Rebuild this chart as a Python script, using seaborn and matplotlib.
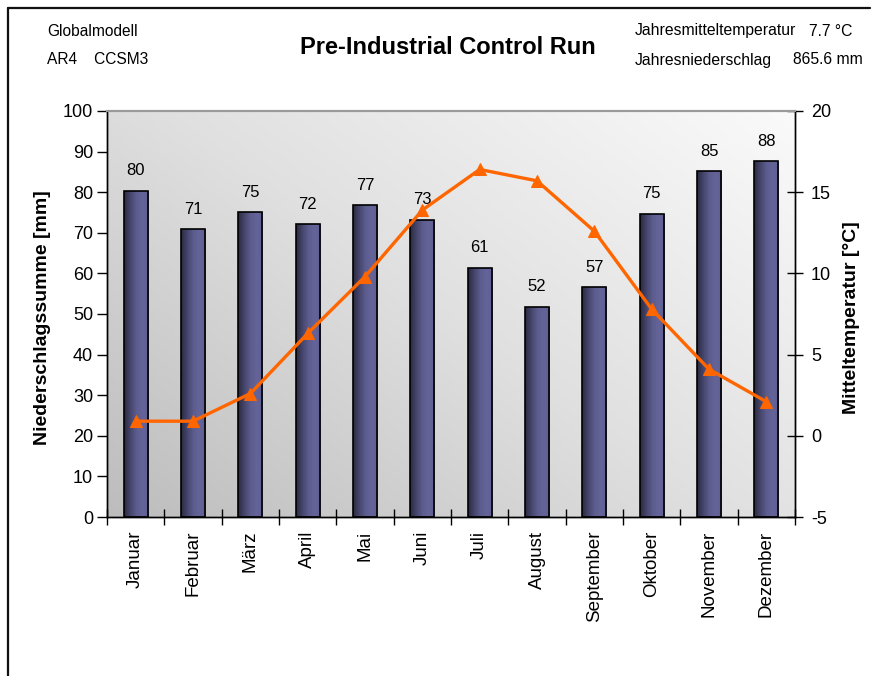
import numpy as np
import pandas as pd
import matplotlib
matplotlib.use("Agg")
import matplotlib.pyplot as plt
from matplotlib.colors import LinearSegmentedColormap
from matplotlib.lines import Line2D
from matplotlib.ticker import MultipleLocator, FixedLocator, NullFormatter
import seaborn as sns

# Monthly climate of the control run
months = ["Januar", "Februar", "März", "April", "Mai", "Juni", "Juli",
          "August", "September", "Oktober", "November", "Dezember"]
precip_mm = [80.4, 70.9, 75.0, 72.1, 76.8, 73.2, 61.4, 51.8, 56.6, 74.7, 85.1, 87.6]
temp_c = [0.9, 0.9, 2.6, 6.3, 9.8, 13.9, 16.4, 15.7, 12.6, 7.8, 4.1, 2.1]

model_name = "Globalmodell"
model_id = "AR4    CCSM3"
title = "Pre-Industrial Control Run"
annual_temp = "7.7 °C"
annual_precip = "865.6 mm"

sns.set_theme(style="white")
plt.rcParams["font.family"] = ["Liberation Sans", "DejaVu Sans"]
plt.rcParams["text.color"] = "black"
plt.rcParams["axes.labelcolor"] = "black"
plt.rcParams["xtick.color"] = "black"
plt.rcParams["ytick.color"] = "black"
plt.rcParams["axes.unicode_minus"] = False

df = pd.DataFrame({"Monat": months, "Niederschlag": precip_mm, "Temperatur": temp_c})

fig = plt.figure(figsize=(8.72, 6.76), dpi=100)
fig.patch.set_facecolor("white")
ax = fig.add_axes([107 / 872, 1 - 517 / 676, (795 - 107) / 872, (517 - 111) / 676])

# Precipitation bars
sns.barplot(data=df, x="Monat", y="Niederschlag", ax=ax, width=0.42,
            color="#50507e", edgecolor="black", linewidth=1.2, zorder=3)
ax.set_xlim(-0.5, len(months) - 0.5)
ax.set_ylim(0, 100)

# Diagonal grey background gradient
gx, gy = np.meshgrid(np.linspace(0, 1, 200), np.linspace(0, 1, 200))
bg = 0.55 * gx + 0.45 * gy
bg_cmap = LinearSegmentedColormap.from_list("bg", ["#bdbdbd", "#e0e0e0", "#fafafa"])
ax.imshow(bg, cmap=bg_cmap, origin="lower", aspect="auto",
          extent=(-0.5, len(months) - 0.5, 0, 100), zorder=0, interpolation="bilinear")

# Horizontal shading on each bar
bar_cmap = LinearSegmentedColormap.from_list(
    "bar", ["#2a2a42", "#45456c", "#5c5c8e", "#64649a", "#5e5e92"])
shade = np.linspace(0, 1, 64).reshape(1, -1)
for patch in ax.patches:
    x0, y0 = patch.get_x(), patch.get_y()
    w, h = patch.get_width(), patch.get_height()
    im = ax.imshow(shade, cmap=bar_cmap, aspect="auto", extent=(x0, x0 + w, y0, y0 + h),
                   zorder=2.5, interpolation="bilinear")
    im.set_clip_path(patch)
    patch.set_facecolor("none")
ax.set_xlim(-0.5, len(months) - 0.5)
ax.set_ylim(0, 100)

ax.bar_label(ax.containers[0], fmt="%.0f", padding=9, fontsize=12, color="black")

# Temperature line on the secondary axis
ax2 = ax.twinx()
sns.lineplot(x=np.arange(len(months)), y=df["Temperatur"], ax=ax2, color="#ff6600",
             linewidth=2.4, marker="^", markersize=8, markeredgecolor="#ff6600", zorder=5)
ax2.set_ylim(-5, 20)
ax2.set_xlim(-0.5, len(months) - 0.5)

# Axes styling
for a in (ax, ax2):
    for side in ("left", "right", "bottom"):
        a.spines[side].set_color("black")
        a.spines[side].set_linewidth(1.0)
    a.spines["top"].set_color("#9a9a9a")
    a.spines["top"].set_linewidth(1.5)

ax.yaxis.set_major_locator(MultipleLocator(10))
ax.tick_params(axis="y", which="major", direction="out", length=7, width=1,
               labelsize=13, pad=3, left=True)
ax.set_ylabel("Niederschlagssumme [mm]", fontsize=14, fontweight="bold")
ax.yaxis.set_label_coords(-0.081, 0.49)

ax2.yaxis.set_major_locator(MultipleLocator(5))
ax2.tick_params(axis="y", which="major", direction="inout", length=11, width=1,
                labelsize=13, pad=6, right=True)
ax2.set_ylabel("Mitteltemperatur [°C]", fontsize=14, fontweight="bold")
ax2.yaxis.set_label_coords(1.070, 0.49)

ax.set_xticks(np.arange(len(months)))
ax.set_xticklabels(months, rotation=90, fontsize=13.5)
ax.xaxis.set_minor_locator(FixedLocator(np.arange(len(months) + 1) - 0.5))
ax.xaxis.set_minor_formatter(NullFormatter())
ax.tick_params(axis="x", which="major", length=0, pad=10)
ax.tick_params(axis="x", which="minor", direction="inout", length=12, width=1, bottom=True)
ax.set_xlabel("")
ax2.set_xlabel("")
ax2.tick_params(axis="x", which="both", bottom=False, top=False, labelbottom=False)

# Header block
fig.text(47 / 872, 1 - 31 / 676, model_name, fontsize=11.2, va="center", ha="left")
fig.text(47 / 872, 1 - 60 / 676, model_id, fontsize=11.2, va="center", ha="left")
fig.text(448 / 872, 1 - 47 / 676, title, fontsize=17, fontweight="bold",
         va="center", ha="center")
fig.text(635 / 872, 1 - 31 / 676, "Jahresmitteltemperatur", fontsize=11.3, va="center", ha="left")
fig.text(852 / 872, 1 - 31 / 676, annual_temp, fontsize=11.3, va="center", ha="right")
fig.text(635 / 872, 1 - 60 / 676, "Jahresniederschlag", fontsize=11.3, va="center", ha="left")
fig.text(863 / 872, 1 - 60 / 676, annual_precip, fontsize=11.3, va="center", ha="right")

# Outer frame (top and left edges)
fig.add_artist(Line2D([8 / 872, 8 / 872], [0, 1 - 8 / 676], transform=fig.transFigure,
                      color="#111111", linewidth=1.6))
fig.add_artist(Line2D([8 / 872, 870 / 872], [1 - 8 / 676, 1 - 8 / 676],
                      transform=fig.transFigure, color="#111111", linewidth=1.6))

fig.savefig("out.png", dpi=100, facecolor="white")
